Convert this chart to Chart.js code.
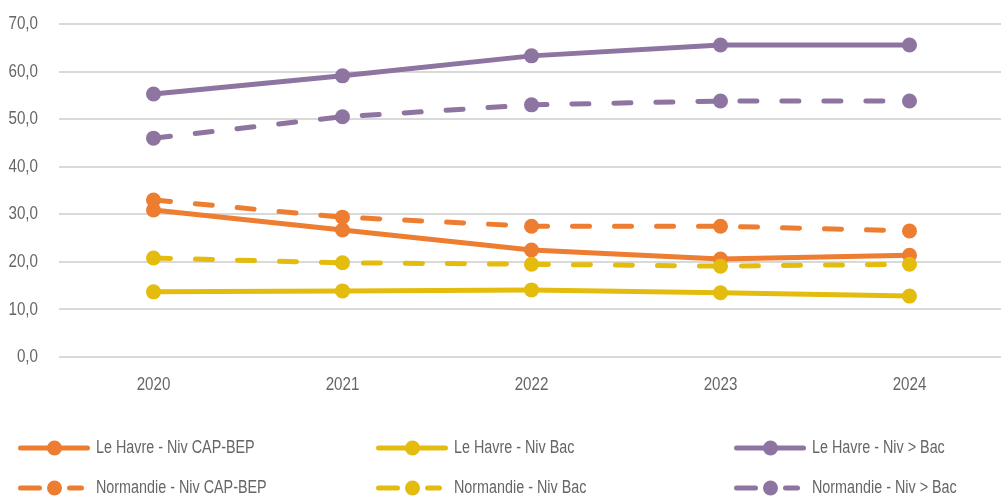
<!DOCTYPE html>
<html>
<head>
<meta charset="utf-8">
<script src="https://cdn.jsdelivr.net/npm/chart.js@4/dist/chart.umd.min.js"></script>
<style>
  html, body { margin: 0; padding: 0; background: #ffffff; overflow: hidden; }
  #wrap { width: 1001px; height: 497px; overflow: hidden; }
</style>
</head>
<body>
<div id="wrap"><canvas id="chart" width="1004" height="497"></canvas></div>
<script>
// Years on the x axis
const years = ['2020', '2021', '2022', '2023', '2024'];

// Share of each education level (%)
const leHavreCapBep   = [30.9, 26.7, 22.5, 20.6, 21.4];
const leHavreBac      = [13.7, 13.9, 14.1, 13.5, 12.8];
const leHavreSupBac   = [55.3, 59.1, 63.3, 65.6, 65.6];
const normandieCapBep = [33.0, 29.4, 27.5, 27.5, 26.5];
const normandieBac    = [20.8, 19.8, 19.5, 19.1, 19.5];
const normandieSupBac = [46.0, 50.5, 53.0, 53.8, 53.8];

// Series names
const seriesLabels = [
  'Le Havre - Niv CAP-BEP', 'Le Havre - Niv Bac', 'Le Havre - Niv > Bac',
  'Normandie - Niv CAP-BEP', 'Normandie - Niv Bac', 'Normandie - Niv > Bac'
];

const ORANGE = '#ED7D31';
const YELLOW = '#E4BC0D';
const PURPLE = '#8E74A0';
const TEXT = '#666666';
const FONT = '"Liberation Sans", Arial, sans-serif';
const NARROW = 0.82; // horizontal squeeze for a condensed look

const seriesValues = [leHavreCapBep, leHavreBac, leHavreSupBac, normandieCapBep, normandieBac, normandieSupBac];
const seriesColors = [ORANGE, YELLOW, PURPLE, ORANGE, YELLOW, PURPLE];
const seriesDashed = [false, false, false, true, true, true];

const datasets = seriesValues.map((vals, i) => ({
  label: seriesLabels[i],
  data: vals,
  borderColor: seriesColors[i],
  backgroundColor: seriesColors[i],
  borderWidth: 5,
  borderDash: seriesDashed[i] ? [17, 25] : [],
  borderCapStyle: 'round',
  borderJoinStyle: 'round',
  pointRadius: 7.5,
  pointHoverRadius: 7.5,
  pointBorderWidth: 0,
  pointBackgroundColor: seriesColors[i],
  tension: 0,
  fill: false,
  order: 6 - i
}));

// Draws text squeezed horizontally around anchor x
function narrowText(ctx, text, x, y, align, size) {
  ctx.save();
  ctx.font = size + 'px ' + FONT;
  ctx.fillStyle = TEXT;
  ctx.textAlign = align;
  ctx.textBaseline = 'middle';
  ctx.scale(NARROW, 1);
  ctx.fillText(text, x / NARROW, y);
  ctx.restore();
}

// Tick labels of both axes, placed from the scales' own tick positions
const condensedTicks = {
  id: 'condensedTicks',
  afterDraw(chart) {
    const ctx = chart.ctx;
    const ys = chart.scales.y;
    ys.ticks.forEach((t, i) => {
      narrowText(ctx, t.value.toFixed(1).replace('.', ','), 38, ys.getPixelForTick(i), 'right', 18.5);
    });
    const xs = chart.scales.x;
    xs.ticks.forEach((t, i) => {
      narrowText(ctx, xs.getLabelForValue(t.value), xs.getPixelForTick(i), 384.5, 'center', 18.5);
    });
  }
};

// Two-row, three-column legend drawn under the axis
const gridLegend = {
  id: 'gridLegend',
  afterDraw(chart) {
    const ctx = chart.ctx;
    const colX = [18, 376, 734];
    const rowY = [448, 488];
    chart.data.datasets.forEach((ds, i) => {
      const x = colX[i % 3];
      const y = rowY[Math.floor(i / 3)];
      ctx.save();
      ctx.strokeStyle = ds.borderColor;
      ctx.fillStyle = ds.borderColor;
      ctx.lineWidth = 5;
      ctx.lineCap = 'round';
      ctx.beginPath();
      if (ds.borderDash.length) {
        ctx.moveTo(x + 2.5, y); ctx.lineTo(x + 21.5, y);
        ctx.moveTo(x + 51.5, y); ctx.lineTo(x + 63.5, y);
      } else {
        ctx.moveTo(x + 2.5, y); ctx.lineTo(x + 69.5, y);
      }
      ctx.stroke();
      ctx.beginPath();
      ctx.arc(x + 36.5, y, 7.5, 0, Math.PI * 2);
      ctx.fill();
      ctx.restore();
      narrowText(ctx, ds.label, x + 78, y, 'left', 17.5);
    });
  }
};

new Chart(document.getElementById('chart'), {
  type: 'line',
  data: { labels: years, datasets },
  options: {
    responsive: false,
    animation: false,
    layout: { autoPadding: false, padding: { top: 24, right: 0, bottom: 100, left: 0 } },
    plugins: {
      legend: { display: false },
      tooltip: { enabled: false }
    },
    scales: {
      x: {
        offset: true,
        grid: { display: false, drawTicks: false },
        border: { display: false },
        ticks: { display: false },
        afterFit(scale) {
          scale.height = 40;
          scale.paddingLeft = 0;
          scale.paddingRight = 0;
        }
      },
      y: {
        min: 0,
        max: 70,
        grid: { color: '#d9d9d9', lineWidth: 2, drawTicks: false },
        border: { display: false },
        ticks: { stepSize: 10, display: false },
        afterFit(scale) {
          scale.width = 59;
          scale.paddingTop = 0;
          scale.paddingBottom = 0;
        }
      }
    }
  },
  plugins: [condensedTicks, gridLegend]
});
</script>
</body>
</html>
